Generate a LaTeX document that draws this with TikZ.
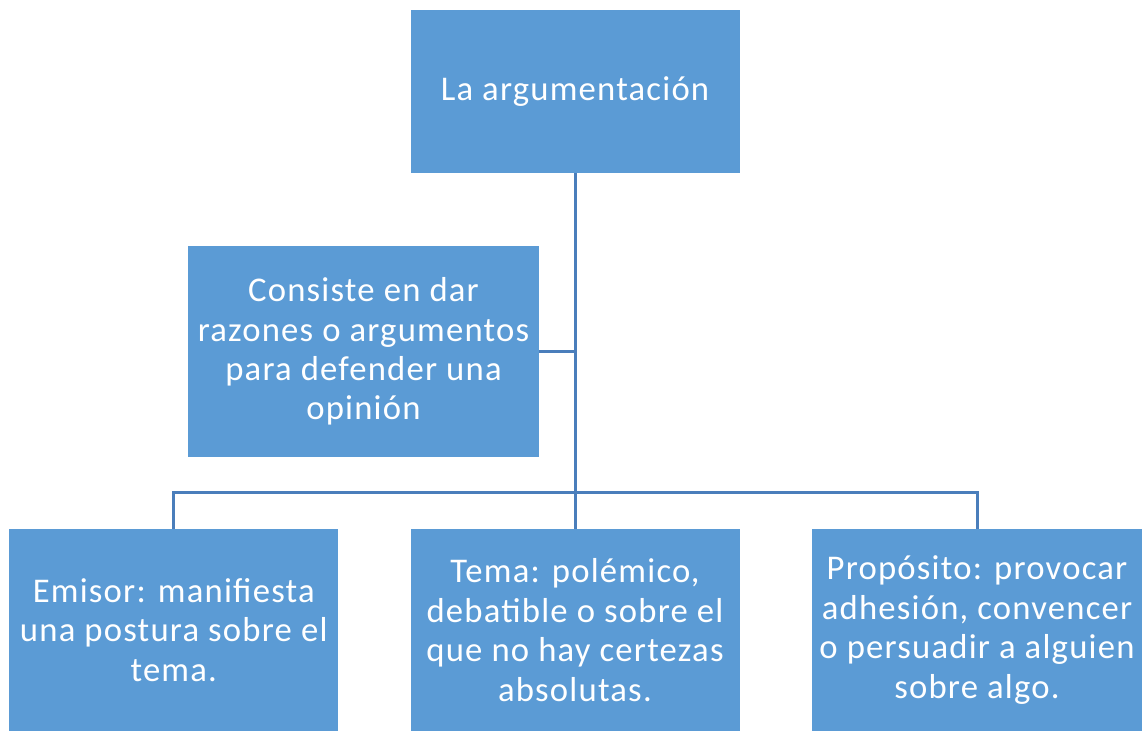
\documentclass[tikz,border=0pt]{standalone}
\usepackage{fontspec}
\setmainfont{Carlito}[LetterSpace=3.5]
\definecolor{boxfill}{HTML}{5B9BD5}
\definecolor{linec}{HTML}{4A7EBB}
\begin{document}
\begin{tikzpicture}[x=0.75pt,y=-0.75pt,
  box/.style={rectangle, fill=boxfill, draw=none, text=white, align=center, inner sep=0pt,
    font=\fontsize{26}{29.6}\selectfont},
  conn/.style={draw=linec, line width=2.25pt}]
\useasboundingbox (0,0) rectangle (1142,731);
\node[box, minimum width=246.75pt, minimum height=122.25pt] (top) at (575,91.5) {La argumentación};
\node[box, minimum width=263.25pt, minimum height=158.25pt] (mid) at (363.5,351.5) {Consiste en dar\\razones o argumentos\\para defender una\\opinión};
\node[box, minimum width=246.4pt, minimum height=151.5pt] (b1) at (173.75,630) {Emisor: manifiesta\\una postura sobre el\\tema.};
\node[box, minimum width=246.75pt, minimum height=151.5pt] (b2) at (575,630) {Tema: polémico,\\debatible o sobre el\\que no hay certezas\\absolutas.};
\node[box, minimum width=247.5pt, minimum height=151.5pt] (b3) at (977,630) {Propósito: provocar\\adhesión, convencer\\o persuadir a alguien\\sobre algo.};
\coordinate (hub) at (575,492.5);
\draw[conn] (top.south) -- (hub);
\draw[conn] (mid.east) -- (mid.east -| top.south);
\draw[conn] (hub) -| (b1.north);
\draw[conn] (hub) -| (b3.north);
\draw[conn] (hub) -- (b2.north);
\end{tikzpicture}
\end{document}
